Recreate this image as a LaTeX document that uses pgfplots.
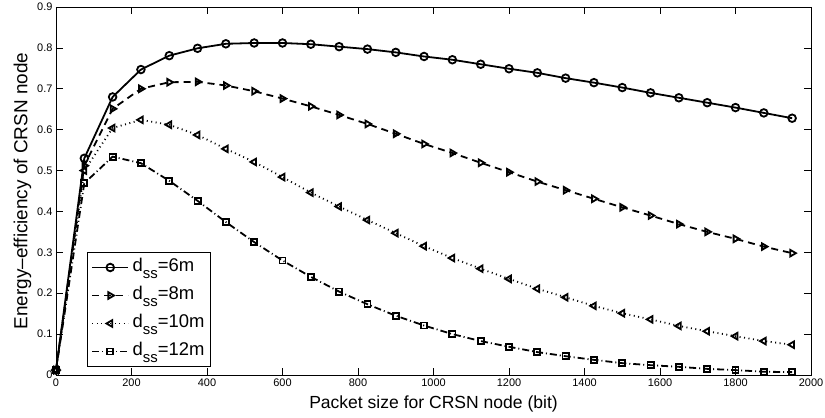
\documentclass[border=0pt]{standalone}
\usepackage{pgfplots}
\pgfplotsset{compat=1.18}
\usepackage{fontspec}
\setmainfont{Liberation Sans}
\newcommand{\dss}[1]{d\raisebox{-0.42em}{\fontsize{15}{15}\selectfont ss}=#1}
\begin{document}
\begin{tikzpicture}
\path[use as bounding box] (-56bp,-43bp) rectangle (769bp,375bp);
\begin{axis}[
  at={(0,0)}, anchor=south west,
  scale only axis,
  width=755bp, height=368bp,
  xmin=0, xmax=2000, ymin=0, ymax=0.9,
  xtick={0,200,...,2000},
  ytick={0,0.1,...,0.9},
  yticklabels={0,0.1,0.2,0.3,0.4,0.5,0.6,0.7,0.8,0.9},
  tick align=inside,
  major tick length=7bp,
  tick style={black, line width=0.6pt},
  axis line style={line width=0.9pt},
  /pgf/number format/assume math mode=true,
  /pgf/number format/1000 sep={},
  tick label style={font=\fontsize{11}{13}\selectfont},
  xlabel={Packet size for CRSN node (bit)},
  ylabel={Energy\textendash efficiency of CRSN node},
  xlabel style={font=\fontsize{17.6}{20}\selectfont, yshift=-3bp},
  ylabel style={font=\fontsize{19}{21}\selectfont, yshift=-1bp},
  legend cell align=left,
  legend style={at={(0.041,0.022)}, anchor=south west, font=\fontsize{18.5}{20}\selectfont,
    draw=black, line width=0.8pt, row sep=6bp, inner sep=4bp,
    nodes={text height=13bp, text depth=6bp, inner sep=1.5bp},
    /tikz/every odd column/.append style={column sep=2bp},
    /tikz/every even column/.append style={column sep=5bp}},
  legend image code/.code={\draw[mark repeat=2,mark phase=2] plot coordinates {(0bp,0bp) (18bp,0bp) (36bp,0bp)};},
  every axis plot/.append style={line width=1.8bp, mark size=3.8bp},
]
\addplot[black, solid, mark=o, mark options={solid}] coordinates {
(0,0.012)(75,0.530)(150,0.680)(225,0.747)(300,0.781)(375,0.799)(450,0.810)(525,0.812)(600,0.812)
(675,0.809)(750,0.803)(825,0.797)(900,0.789)(975,0.779)(1050,0.771)(1125,0.760)(1200,0.749)
(1275,0.739)(1350,0.726)(1425,0.715)(1500,0.703)(1575,0.690)(1650,0.678)(1725,0.666)
(1800,0.654)(1875,0.641)(1950,0.628)};
\addlegendentry{\dss{6m}}
\addplot[black, dash pattern=on 7bp off 5bp, mark=triangle, mark options={solid, rotate=-90}] coordinates {
(0,0.012)(75,0.512)(150,0.651)(225,0.700)(300,0.716)(375,0.717)(450,0.708)(525,0.694)(600,0.676)
(675,0.657)(750,0.636)(825,0.614)(900,0.590)(975,0.565)(1050,0.543)(1125,0.519)(1200,0.496)
(1275,0.473)(1350,0.452)(1425,0.431)(1500,0.410)(1575,0.390)(1650,0.369)(1725,0.350)
(1800,0.333)(1875,0.314)(1950,0.298)};
\addlegendentry{\dss{8m}}
\addplot[black, dash pattern=on 1bp off 3.5bp, mark=triangle, mark options={solid, rotate=90}] coordinates {
(0,0.012)(75,0.500)(150,0.604)(225,0.624)(300,0.612)(375,0.587)(450,0.553)(525,0.521)(600,0.484)
(675,0.446)(750,0.412)(825,0.379)(900,0.347)(975,0.315)(1050,0.286)(1125,0.260)(1200,0.235)
(1275,0.211)(1350,0.190)(1425,0.169)(1500,0.151)(1575,0.136)(1650,0.120)(1725,0.107)
(1800,0.095)(1875,0.083)(1950,0.074)};
\addlegendentry{\dss{10m}}
\addplot[black, dash pattern=on 7bp off 3bp on 1bp off 3bp, mark=square, mark options={solid, scale=0.8}] coordinates {
(0,0.012)(75,0.469)(150,0.534)(225,0.518)(300,0.475)(375,0.426)(450,0.374)(525,0.325)(600,0.280)
(675,0.240)(750,0.204)(825,0.173)(900,0.145)(975,0.121)(1050,0.100)(1125,0.083)(1200,0.069)
(1275,0.056)(1350,0.046)(1425,0.037)(1500,0.029)(1575,0.024)(1650,0.020)(1725,0.015)
(1800,0.012)(1875,0.008)(1950,0.007)};
\addlegendentry{\dss{12m}}
\end{axis}
\end{tikzpicture}
\end{document}
